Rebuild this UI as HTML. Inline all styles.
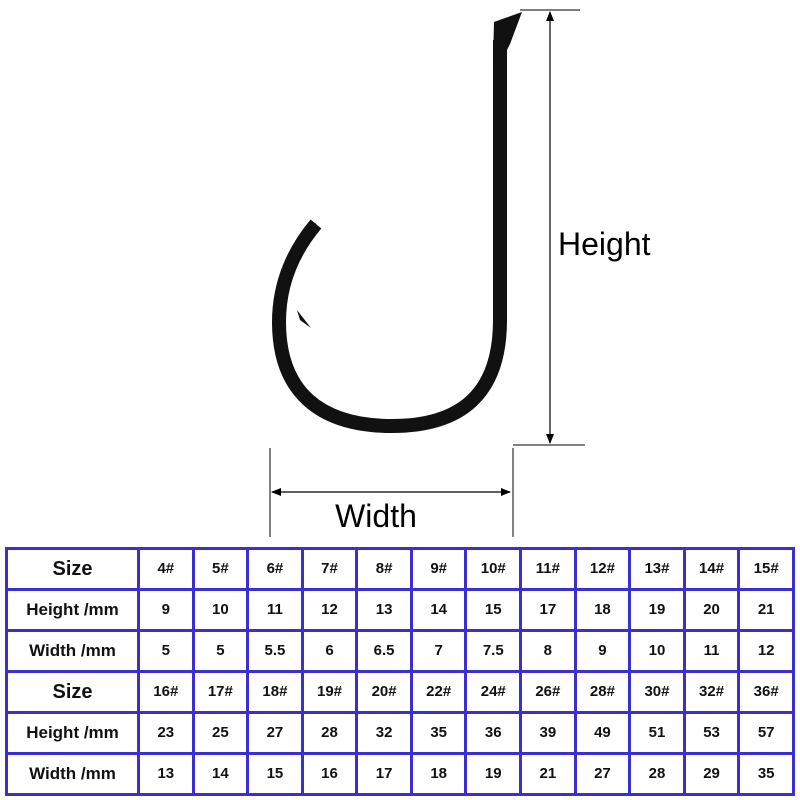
<!DOCTYPE html>
<html><head><style>
html,body{margin:0;padding:0;background:#fff;}
body{width:800px;height:800px;position:relative;overflow:hidden;font-family:"Liberation Sans",sans-serif;}
svg{position:absolute;left:0;top:0;}
table{position:absolute;left:5px;top:547px;width:790px;border-collapse:collapse;table-layout:fixed;}
td{border:3px solid #3b2fcf;text-align:center;font-weight:bold;font-size:15px;color:#111;padding:0;height:38px;line-height:16px;}
td.h{font-size:17px;}
td.s{font-size:20px;}
</style></head><body>
<svg width="800" height="545" viewBox="0 0 800 545">
<defs><marker id="a" markerWidth="10" markerHeight="10" refX="9" refY="5" orient="auto-start-reverse" markerUnits="userSpaceOnUse"><path d="M0,1 L10,5 L0,9 Z" fill="#000"/></marker></defs>
<path d="M500,40 L500,320 C500,395 460,426 392,426 C320,426 279,392 279,322 C279,283 294,250 316,224" fill="none" stroke="#111" stroke-width="14" stroke-linejoin="round"/>
<path d="M316,222 L304,248 L312,240 Z" fill="#111"/>
<path d="M297,310 L311,328 L300,320 Z" fill="#111"/>
<path d="M494,22 L522,12 L510,44 L507,50 L493,62 Z" fill="#111"/>
<line x1="520" y1="10" x2="580" y2="10" stroke="#000" stroke-width="1"/>
<line x1="513" y1="445" x2="585" y2="445" stroke="#000" stroke-width="1"/>
<line x1="550" y1="12" x2="550" y2="443" stroke="#000" stroke-width="1.2" marker-start="url(#a)" marker-end="url(#a)"/>
<line x1="270" y1="448" x2="270" y2="537" stroke="#000" stroke-width="1"/>
<line x1="513" y1="448" x2="513" y2="537" stroke="#000" stroke-width="1"/>
<line x1="272" y1="492" x2="510" y2="492" stroke="#000" stroke-width="1.2" marker-start="url(#a)" marker-end="url(#a)"/>
<text x="558" y="255" font-family="Liberation Sans,sans-serif" font-size="32" fill="#000">Height</text>
<text x="376" y="527" text-anchor="middle" font-family="Liberation Sans,sans-serif" font-size="32" fill="#000">Width</text>
</svg>
<table>
<colgroup><col style="width:132px"><col span="12"></colgroup>
<tr><td class="s">Size</td><td>4#</td><td>5#</td><td>6#</td><td>7#</td><td>8#</td><td>9#</td><td>10#</td><td>11#</td><td>12#</td><td>13#</td><td>14#</td><td>15#</td></tr>
<tr><td class="h">Height /mm</td><td>9</td><td>10</td><td>11</td><td>12</td><td>13</td><td>14</td><td>15</td><td>17</td><td>18</td><td>19</td><td>20</td><td>21</td></tr>
<tr><td class="h">Width /mm</td><td>5</td><td>5</td><td>5.5</td><td>6</td><td>6.5</td><td>7</td><td>7.5</td><td>8</td><td>9</td><td>10</td><td>11</td><td>12</td></tr>
<tr><td class="s">Size</td><td>16#</td><td>17#</td><td>18#</td><td>19#</td><td>20#</td><td>22#</td><td>24#</td><td>26#</td><td>28#</td><td>30#</td><td>32#</td><td>36#</td></tr>
<tr><td class="h">Height /mm</td><td>23</td><td>25</td><td>27</td><td>28</td><td>32</td><td>35</td><td>36</td><td>39</td><td>49</td><td>51</td><td>53</td><td>57</td></tr>
<tr><td class="h">Width /mm</td><td>13</td><td>14</td><td>15</td><td>16</td><td>17</td><td>18</td><td>19</td><td>21</td><td>27</td><td>28</td><td>29</td><td>35</td></tr>
</table>
</body></html>
